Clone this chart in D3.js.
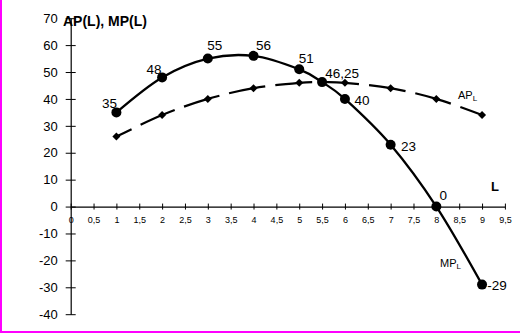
<!DOCTYPE html>
<html>
<head>
<meta charset="utf-8">
<script src="https://cdn.jsdelivr.net/npm/d3@7"></script>
<style>
  html, body { margin: 0; padding: 0; background: #fff; }
  svg { display: block; font-family: "Liberation Sans", Arial, sans-serif; }
</style>
</head>
<body>
<svg id="chart" width="520" height="333"></svg>
<script>
// ---- data ----
const mpL = [1, 2, 3, 4, 5, 5.5, 6, 7, 8, 9];
const mpValues = [35, 48, 55, 56, 51, 46.25, 40, 23, 0, -29];
const mpLabels = ["35", "48", "55", "56", "51", "46,25", "40", "23", "0", "-29"];
const apL = [1, 2, 3, 4, 5, 5.5, 6, 7, 8, 9];
const apValues = [26, 34, 40, 44, 46, 46.25, 46, 44, 40, 34];
const xTicks = [0, 0.5, 1, 1.5, 2, 2.5, 3, 3.5, 4, 4.5, 5, 5.5, 6, 6.5, 7, 7.5, 8, 8.5, 9, 9.5];
const xTickLabels = ["0", "0,5", "1", "1,5", "2", "2,5", "3", "3,5", "4", "4,5", "5", "5,5", "6", "6,5", "7", "7,5", "8", "8,5", "9", "9,5"];
const yTicks = [-40, -30, -20, -10, 0, 10, 20, 30, 40, 50, 60, 70];
const yTitle = "AP(L), MP(L)";
const xTitle = "L";

// label placement (style, not data): offsets of label centre from point
const labelOffsets = [[-7, -9], [-8, -8], [7, -13], [10, -11], [7, -11], [20, -9], [17, 1], [18, 2], [7, -11], [15, 1]];

const svg = d3.select("#chart");

// frame (magenta left and bottom)
svg.append("line").attr("x1", 1).attr("x2", 1).attr("y1", 0).attr("y2", 333)
  .attr("stroke", "#ff00ff").attr("stroke-width", 2);
svg.append("line").attr("x1", 0).attr("x2", 520).attr("y1", 332).attr("y2", 332)
  .attr("stroke", "#ff00ff").attr("stroke-width", 2);

const x = d3.scaleLinear().domain([0, 9.5]).range([70.7, 504.9]);
const y = d3.scaleLinear().domain([-40, 70]).range([314.2, 18.2]);

// Y axis
const yAxis = svg.append("g").attr("transform", `translate(${x(0)},0)`)
  .call(d3.axisLeft(y).tickValues(yTicks).tickSizeOuter(0).tickSizeInner(5).tickFormat(d => String(d)));
yAxis.select(".domain").attr("stroke", "#000").attr("stroke-width", 1.2);
yAxis.selectAll(".tick line").attr("x1", -5).attr("x2", 5).attr("stroke", "#000");
yAxis.selectAll(".tick text").attr("x", -13).attr("font-size", 13).attr("fill", "#000")
  .attr("font-family", "Liberation Sans, Arial, sans-serif");

// X axis
const xAxis = svg.append("g").attr("transform", `translate(0,${y(0)})`)
  .call(d3.axisBottom(x).tickValues(xTicks).tickSizeOuter(0).tickSizeInner(3)
    .tickFormat((d, i) => xTickLabels[i]));
xAxis.select(".domain").attr("stroke", "#000").attr("stroke-width", 1.2);
xAxis.selectAll(".tick line").attr("y1", -3).attr("y2", 3).attr("stroke", "#000");
xAxis.selectAll(".tick text").attr("y", 10).attr("font-size", 9).attr("fill", "#000")
  .attr("font-family", "Liberation Sans, Arial, sans-serif");

// titles
svg.append("text").attr("x", 63).attr("y", 26).attr("font-size", 14).attr("font-weight", "bold")
  .text(yTitle);
svg.append("text").attr("x", 491).attr("y", 191).attr("font-size", 13).attr("font-weight", "bold")
  .text(xTitle);

// lines
const line = d3.line().curve(d3.curveCardinal.tension(0));
const apPts = apL.map((l, i) => [x(l), y(apValues[i])]);
const mpPts = mpL.map((l, i) => [x(l), y(mpValues[i])]);

svg.append("path").attr("d", line(apPts)).attr("fill", "none").attr("stroke", "#000")
  .attr("stroke-width", 2.2).attr("stroke-dasharray", "37,10").attr("stroke-dashoffset", 20);
svg.append("g").selectAll("path").data(apPts).join("path")
  .attr("d", d3.symbol(d3.symbolSquare, 32)())
  .attr("transform", d => `translate(${d[0]},${d[1]}) rotate(45)`)
  .attr("fill", "#000");

svg.append("path").attr("d", line(mpPts)).attr("fill", "none").attr("stroke", "#000")
  .attr("stroke-width", 2.3);
svg.append("g").selectAll("circle").data(mpPts).join("circle")
  .attr("cx", d => d[0]).attr("cy", d => d[1]).attr("r", 5).attr("fill", "#000");

// data labels
svg.append("g").selectAll("text").data(mpPts).join("text")
  .attr("x", (d, i) => d[0] + labelOffsets[i][0])
  .attr("y", (d, i) => d[1] + labelOffsets[i][1])
  .attr("dy", "0.35em").attr("text-anchor", "middle").attr("font-size", 13.5).attr("fill", "#000")
  .text((d, i) => mpLabels[i]);

// series names
const apName = svg.append("text").attr("x", 458).attr("y", 99).attr("font-size", 11);
apName.append("tspan").text("AP");
apName.append("tspan").attr("font-size", 8).attr("dy", 2).text("L");
const mpName = svg.append("text").attr("x", 440).attr("y", 267).attr("font-size", 11);
mpName.append("tspan").text("MP");
mpName.append("tspan").attr("font-size", 8).attr("dy", 2).text("L");
</script>
</body>
</html>
